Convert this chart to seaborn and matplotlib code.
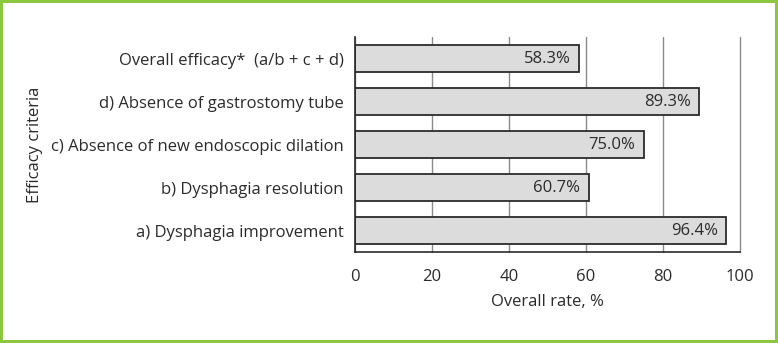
import matplotlib
matplotlib.use("Agg")
import matplotlib.pyplot as plt
import seaborn as sns
import pandas as pd

criteria = [
    "Overall efficacy*  (a/b + c + d)",
    "d) Absence of gastrostomy tube",
    "c) Absence of new endoscopic dilation",
    "b) Dysphagia resolution",
    "a) Dysphagia improvement",
]
rates = [58.3, 89.3, 75.0, 60.7, 96.4]
xticks = [0, 20, 40, 60, 80, 100]

df = pd.DataFrame({"criteria": criteria, "rate": rates})

sns.set_style("white")
plt.rcParams["font.family"] = ["Open Sans", "DejaVu Sans"]
txt = "#2b2b2b"
fs = 12

fig = plt.figure(figsize=(7.78, 3.43), dpi=100, edgecolor="#8dc63f", linewidth=4)
ax = fig.add_axes([0.4563, 0.2653, 0.4949, 0.6267])

# vertical grid behind bars
ax.set_axisbelow(True)
ax.xaxis.grid(True, color="#8a8a8a", linewidth=1)

sns.barplot(data=df, x="rate", y="criteria", orient="h", color="#dcdcdc",
            edgecolor="#2b2b2b", linewidth=1.3, width=0.63, saturation=1, ax=ax)

for i, v in enumerate(rates):
    ax.annotate(f"{v:.1f}%", xy=(v, i), xytext=(-6, 0), textcoords="offset points",
                ha="right", va="center", fontsize=fs, color=txt)

ax.set_xlim(0, 100)
ax.set_ylim(4.5, -0.5)
ax.set_xticks(xticks)
ax.set_yticks(range(len(criteria)))
ax.set_yticklabels(criteria)
ax.set_yticks([i - 0.5 for i in range(len(criteria) + 1)], minor=True)
ax.tick_params(axis="y", which="major", length=0, pad=8, labelsize=fs, labelcolor=txt)
ax.tick_params(axis="y", which="minor", length=6, width=1, color=txt, direction="out")
ax.tick_params(axis="x", length=6, width=1, color=txt, labelsize=fs, labelcolor=txt, pad=6)
for gl in ax.get_xgridlines():
    gl.set_clip_on(False)

for s in ["top", "right"]:
    ax.spines[s].set_visible(False)
for s in ["left", "bottom"]:
    ax.spines[s].set_color(txt)
    ax.spines[s].set_linewidth(1.2)

ax.set_xlabel("Overall rate, %", fontsize=fs, color=txt, labelpad=7)
ax.set_ylabel("Efficacy criteria", fontsize=fs, color=txt)
ax.yaxis.set_label_coords(-0.81, 0.5)

fig.savefig("out.png", dpi=100, edgecolor=fig.get_edgecolor())
